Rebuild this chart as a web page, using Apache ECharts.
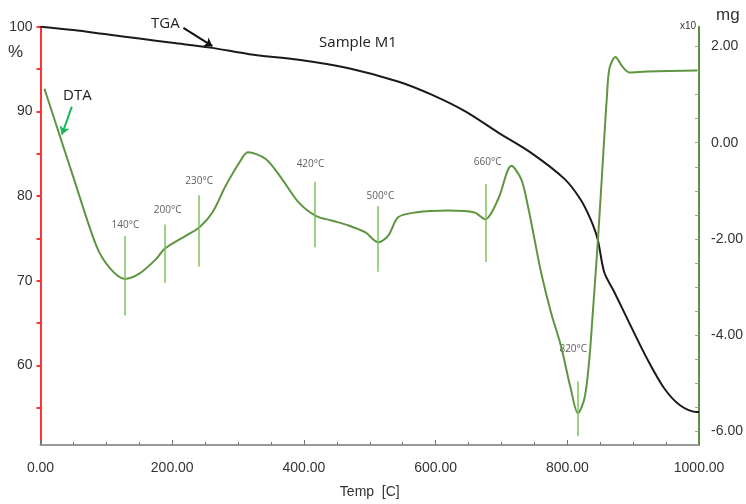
<!DOCTYPE html>
<html>
<head>
    <meta charset="utf-8">
    <title>TGA / DTA Sample M1</title>
    <script src="https://cdn.jsdelivr.net/npm/echarts/dist/echarts.min.js"></script>
	<style>
	html, body { margin: 0; padding: 0; background: #fff; }
	#main { width: 746px; height: 504px; }
	</style>
</head>
<body>
    <div id="main"></div>
    <script type="text/javascript">
        // TGA: [temp C, mass %]  (left axis)
        var tgaData = [
            [0, 100], [50, 99.6], [100, 99.1], [150, 98.6], [200, 98.1], [261, 97.5],
            [317, 96.75], [392, 96.1], [468, 95.1], [544, 93.5], [593, 92.0], [645, 90.0],
            [695, 87.5], [745, 85.1], [796, 82.0], [820, 79.6], [835, 77.3], [846, 74.9],
            [856, 71.0], [871, 68.7], [896, 64.7], [921, 60.8], [947, 57.3], [971, 55.3],
            [997, 54.5], [1000, 54.5]
        ];
        // DTA: [temp C, mg x10]  (right axis)
        var dtaData = [
            [6, 1.12], [50, -0.72], [85, -2.15], [105, -2.6],
            [128, -2.83], [150, -2.72], [176, -2.41], [188, -2.21], [221, -1.93], [241, -1.76],
            [261, -1.45], [281, -0.9], [302, -0.41], [315, -0.2], [342, -0.34], [367, -0.76],
            [392, -1.24], [418, -1.52], [443, -1.62], [468, -1.72], [493, -1.86], [513, -2.07],
            [528, -1.93], [543, -1.55], [569, -1.45], [619, -1.41], [659, -1.45], [675, -1.59],
            [695, -1.17], [715, -0.48], [730, -0.76], [740, -1.31], [750, -2.0], [760, -2.69],
            [775, -3.52], [790, -4.21], [805, -5.1], [816, -5.62], [826, -5.31], [833, -4.55],
            [838, -3.65], [846, -2.1], [852, -0.8], [856, 0.1], [860, 0.95], [864, 1.55],
            [873, 1.78], [883, 1.59], [894, 1.46], [921, 1.48], [997, 1.5]
        ];
        // peak markers: temp position, top / bottom of the line (mg x10), label position
        var peakNames = ['140°C', '200°C', '230°C', '420°C', '500°C', '660°C', '820°C'];
        var peakTemps = [128, 188, 241, 416, 512, 676, 816];
        var peakTop = [-1.94, -1.70, -1.09, -0.81, -1.32, -0.86, -4.96];
        var peakBottom = [-3.59, -2.91, -2.57, -2.17, -2.68, -2.48, -6.10];
        var peakLabelPos = [[129, -1.71], [193, -1.40], [241, -0.80], [410, -0.45], [516, -1.11], [679, -0.41], [809, -4.28]];

        var xTicks = [0, 200, 400, 600, 800, 1000];
        var leftLabels = [60, 70, 80, 90, 100];
        var leftTicks = [55, 60, 65, 70, 75, 80, 85, 90, 95, 100];
        var rightLabels = [-6, -4, -2, 0, 2];
        var rightTicks = [-6, -5.5, -5, -4.5, -4, -3.5, -3, -2.5, -2, -1.5, -1, -0.5, 0, 0.5, 1, 1.5, 2];

        var myChart = echarts.init(document.getElementById('main'));

        var peakLines = [];
        for (var i = 0; i < peakTemps.length; i++) {
            peakLines.push([{ coord: [peakTemps[i], peakTop[i]] }, { coord: [peakTemps[i], peakBottom[i]] }]);
        }
        var peakLabels = [];
        for (var j = 0; j < peakNames.length; j++) {
            peakLabels.push({ value: peakLabelPos[j], name: peakNames[j] });
        }

        var font = 'Liberation Sans, Arial, sans-serif';

        var option = {
            backgroundColor: '#fff',
            animation: false,
            title: {
                text: 'Sample M1',
                left: 353, top: 30,
                textAlign: 'center',
                textStyle: { fontSize: 15, fontWeight: 'normal', color: '#222', fontFamily: 'Open Sans' }
            },
            grid: { left: 40.5, right: 44, top: 26.7, bottom: 57.3 },
            xAxis: {
                type: 'value',
                min: 0, max: 1000, interval: 200,
                name: 'Temp  [C]',
                nameLocation: 'middle',
                nameGap: 40,
                nameTextStyle: { fontSize: 14, color: '#333', fontFamily: font },
                axisLine: { onZero: false, lineStyle: { color: '#999', width: 2 } },
                axisTick: { show: true, inside: true, length: 5, lineStyle: { color: '#777' } },
                minorTick: { show: true, splitNumber: 4, length: 3, lineStyle: { color: '#777' } },
                axisLabel: {
                    margin: 16, fontSize: 14, color: '#333', fontFamily: font,
                    customValues: xTicks,
                    formatter: function (v) { return v.toFixed(2); }
                },
                splitLine: { show: false }
            },
            yAxis: [
                {
                    type: 'value',
                    min: 50.6, max: 100,
                    position: 'left',
                    axisLine: { show: true, onZero: false, lineStyle: { color: '#ff3333', width: 2 } },
                    axisTick: { show: true, length: 4, customValues: leftTicks, lineStyle: { color: '#ff3333', width: 2 } },
                    axisLabel: {
                        margin: 8, fontSize: 14, color: '#333', fontFamily: font,
                        customValues: leftLabels
                    },
                    splitLine: { show: false }
                },
                {
                    type: 'value',
                    min: -6.28, max: 2.41,
                    position: 'right',
                    axisLine: { show: true, onZero: false, lineStyle: { color: '#5e8f3e', width: 2 } },
                    axisTick: { show: true, inside: true, length: 4, customValues: rightTicks, lineStyle: { color: '#999' } },
                    axisLabel: {
                        margin: 12, fontSize: 14, color: '#333', fontFamily: font,
                        customValues: rightLabels,
                        formatter: function (v) { return v.toFixed(2); }
                    },
                    splitLine: { show: false }
                }
            ],
            graphic: [
                { type: 'text', left: 8, top: 44, style: { text: '%', fontSize: 17, fill: '#333', fontFamily: font } },
                { type: 'text', left: 680, top: 21, style: { text: 'x10', fontSize: 10, fill: '#333', fontFamily: font } },
                { type: 'text', left: 716, top: 7, style: { text: 'mg', fontSize: 17, fill: '#333', fontFamily: font } },
                { type: 'text', left: 151, top: 16, style: { text: 'TGA', fontSize: 15, fill: '#222', fontFamily: 'Open Sans' } },
                { type: 'text', left: 63, top: 88, style: { text: 'DTA', fontSize: 15, fill: '#222', fontFamily: 'Open Sans' } }
            ],
            series: [
                {
                    name: 'TGA',
                    type: 'line',
                    yAxisIndex: 0,
                    smooth: 0.3,
                    showSymbol: false,
                    lineStyle: { color: '#1a1a1a', width: 2 },
                    data: tgaData,
                    markLine: {
                        silent: true,
                        symbol: ['none', 'arrow'],
                        symbolSize: 8,
                        label: { show: false },
                        lineStyle: { color: '#111', width: 2, type: 'solid' },
                        data: [[{ coord: [217, 99.85] }, { coord: [261, 97.7] }]]
                    }
                },
                {
                    name: 'DTA',
                    type: 'line',
                    yAxisIndex: 1,
                    smooth: 0.3,
                    showSymbol: false,
                    lineStyle: { color: '#5f9440', width: 2 },
                    data: dtaData,
                    markLine: {
                        silent: true,
                        symbol: ['none', 'none'],
                        label: { show: false },
                        lineStyle: { color: '#7cc35a', width: 1.5, type: 'solid' },
                        data: peakLines
                    }
                },
                {
                    name: 'DTA arrow',
                    type: 'line',
                    yAxisIndex: 1,
                    data: [],
                    markLine: {
                        silent: true,
                        symbol: ['none', 'arrow'],
                        symbolSize: 8,
                        label: { show: false },
                        lineStyle: { color: '#1fb55a', width: 2, type: 'solid' },
                        data: [[{ coord: [47.6, 0.75] }, { coord: [32.5, 0.17] }]]
                    }
                },
                {
                    name: 'peaks',
                    type: 'scatter',
                    yAxisIndex: 1,
                    symbolSize: 0,
                    silent: true,
                    label: {
                        show: true,
                        position: 'inside',
                        formatter: '{b}',
                        fontSize: 10,
                        color: '#333',
                        fontFamily: 'Open Sans'
                    },
                    data: peakLabels
                }
            ]
        };

        myChart.setOption(option);
    </script>
</body>
</html>
